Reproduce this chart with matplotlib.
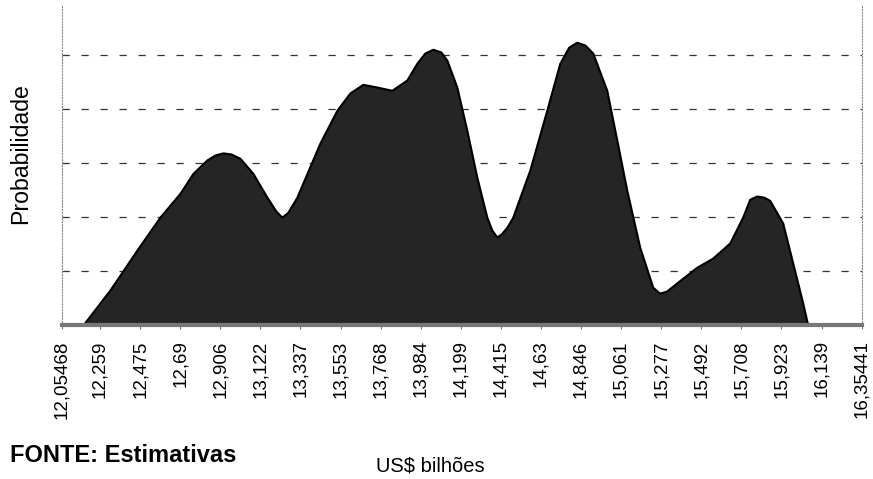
import matplotlib
matplotlib.use('Agg')
import matplotlib.pyplot as plt

plt.rcParams['font.family'] = ['Liberation Sans', 'DejaVu Sans']

# valores (US$ bilhões x probabilidade relativa)
valores = [12.05468, 12.1676, 12.3127, 12.4578, 12.5814, 12.6889, 12.7588, 12.8340,
           12.8770, 12.9200, 12.9630, 13.0114, 13.0813, 13.1565, 13.2049, 13.2371,
           13.2694, 13.3178, 13.4413, 13.5327, 13.6026, 13.6724, 13.7477, 13.8283,
           13.9089, 13.9627, 14.0057, 14.0487, 14.0917, 14.1239, 14.1777, 14.2314,
           14.2852, 14.3389, 14.3658, 14.3927, 14.4195, 14.4464, 14.4787, 14.5700,
           14.6614, 14.7313, 14.7796, 14.8227, 14.8656, 14.9087, 14.9839, 15.0377,
           15.0914, 15.1613, 15.2312, 15.2688, 15.3063, 15.3602, 15.4677, 15.5537,
           15.6451, 15.7149, 15.7525, 15.7902, 15.8278, 15.8600, 15.9299, 15.9836,
           16.0374, 16.0643, 16.35441]
probabilidade = [0, 0, 0.65, 1.39, 2.00, 2.44, 2.81, 3.06,
                 3.15, 3.19, 3.17, 3.09, 2.81, 2.37, 2.11, 2.00,
                 2.09, 2.37, 3.37, 3.98, 4.30, 4.46, 4.41, 4.35,
                 4.54, 4.85, 5.04, 5.11, 5.06, 4.91, 4.41, 3.61,
                 2.74, 2.00, 1.76, 1.63, 1.70, 1.81, 2.00, 2.87,
                 3.98, 4.85, 5.15, 5.24, 5.19, 5.04, 4.35, 3.43,
                 2.50, 1.44, 0.70, 0.59, 0.63, 0.78, 1.07, 1.24,
                 1.52, 2.00, 2.33, 2.39, 2.37, 2.31, 1.89, 1.15,
                 0.41, 0, 0]

ticks = [12.05468, 12.259, 12.475, 12.69, 12.906, 13.122, 13.337, 13.553, 13.768,
         13.984, 14.199, 14.415, 14.63, 14.846, 15.061, 15.277, 15.492, 15.708,
         15.923, 16.139, 16.35441]
tick_labels = ['12,05468', '12,259', '12,475', '12,69', '12,906', '13,122', '13,337',
               '13,553', '13,768', '13,984', '14,199', '14,415', '14,63', '14,846',
               '15,061', '15,277', '15,492', '15,708', '15,923', '16,139', '16,35441']

fig = plt.figure(figsize=(8.73, 4.79), dpi=100)
ax = fig.add_axes([0.071, 0.3215, 0.916, 0.668])

ax.fill_between(valores, probabilidade, 0, color='#252525', edgecolor='black',
                linewidth=1.5, joinstyle='round', zorder=3)

ax.set_xlim(12.05468, 16.35441)
ax.set_ylim(0, 5.93)
ax.set_yticks([1, 2, 3, 4, 5])
ax.set_yticklabels([])
ax.tick_params(axis='y', length=0)
ax.yaxis.grid(True, linestyle=(0, (5.8, 9.4)), color='#333333', linewidth=0.9, zorder=1)

ax.set_xticks(ticks)
ax.set_xticklabels(tick_labels, rotation=90, fontsize=13.5)
ax.tick_params(axis='x', length=3, color='#777777', pad=8)

ax.spines['top'].set_visible(False)
ax.spines['left'].set_linestyle(':')
ax.spines['left'].set_color('#888888')
ax.spines['right'].set_linestyle(':')
ax.spines['right'].set_color('#888888')
ax.spines['bottom'].set_linewidth(3)
ax.spines['bottom'].set_color('#777777')
ax.spines['bottom'].set_zorder(4)

ax.set_ylabel('Probabilidade', fontsize=16.7)
ax.yaxis.set_label_coords(-0.037, 0.535)
fig.text(0.011, 0.05, 'FONTE: Estimativas', fontsize=17, fontweight='bold',
         va='center', ha='left')
fig.text(0.493, 0.027, 'US$ bilhões', fontsize=14.5, va='center', ha='center')

fig.savefig('out.png', dpi=100)
